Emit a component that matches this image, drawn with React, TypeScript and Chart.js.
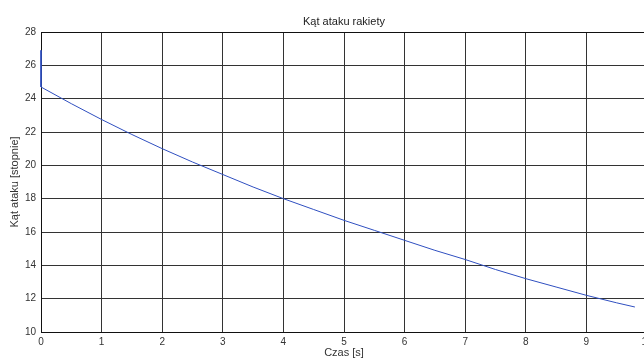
import React, { useEffect, useRef } from "react";
import { Chart, registerables } from "chart.js";

Chart.register(...registerables);

const times = [0, 0, 0.5, 1, 1.5, 2, 2.5, 3, 3.5, 4, 4.5, 5, 5.5, 6, 6.5, 7, 7.5, 8, 8.5, 9, 9.5, 9.8];
const angles = [26.9, 24.7, 23.7, 22.75, 21.85, 21.0, 20.2, 19.45, 18.7, 18.0, 17.35, 16.7, 16.1, 15.5, 14.9, 14.35, 13.75, 13.2, 12.7, 12.2, 11.75, 11.5];
const xTicks = [0, 1, 2, 3, 4, 5, 6, 7, 8, 9, 10];
const yTicks = [10, 12, 14, 16, 18, 20, 22, 24, 26, 28];
const chartTitle = "Kąt ataku rakiety";
const xTitle = "Czas [s]";
const yTitle = "Kąt ataku [stopnie]";

const FONT = "'Liberation Sans', Arial, sans-serif";

export default function App() {
  const ref = useRef<HTMLCanvasElement | null>(null);
  useEffect(() => {
    document.body.style.margin = "0";
    const ctx = ref.current!;
    const titlePlugin = {
      id: "customTitle",
      afterDraw(chart: any) {
        const { ctx, chartArea } = chart;
        ctx.save();
        ctx.font = `11px ${FONT}`;
        ctx.fillStyle = "#222";
        ctx.textAlign = "center";
        ctx.textBaseline = "middle";
        ctx.fillText(chartTitle, (chartArea.left + chartArea.right) / 2, 22);
        ctx.strokeStyle = "#111";
        ctx.lineWidth = 1;
        ctx.beginPath();
        ctx.moveTo(chartArea.left, chartArea.top + 0.5);
        ctx.lineTo(chartArea.right, chartArea.top + 0.5);
        ctx.stroke();
        ctx.restore();
      },
    };
    const chart = new Chart(ctx, {
      type: "line",
      data: {
        datasets: [
          {
            data: times.map((t, i) => ({ x: t, y: angles[i] })),
            borderColor: "#2f4fc0",
            borderWidth: 1,
            pointRadius: 0,
            tension: 0,
            fill: false,
            clip: 3,
          },
        ],
      },
      options: {
        animation: false,
        responsive: false,
        maintainAspectRatio: false,
        layout: { padding: { top: 32, right: 53, left: 2, bottom: 0 } },
        plugins: { legend: { display: false }, tooltip: { enabled: false }, title: { display: false } },
        scales: {
          x: {
            type: "linear",
            min: 0,
            max: 10,
            afterBuildTicks: (s: any) => {
              s.ticks = xTicks.map((v) => ({ value: v }));
            },
            afterFit: (s: any) => {
              s.height = 28;
            },
            grid: { color: "#333", lineWidth: 1, drawTicks: false },
            border: { color: "#111", width: 1 },
            ticks: { color: "#333", font: { family: FONT, size: 10 }, padding: 4, maxRotation: 0 },
            title: { display: true, text: xTitle, color: "#333", font: { family: FONT, size: 11 }, padding: { top: 0, bottom: 0 } },
          },
          y: {
            type: "linear",
            min: 10,
            max: 28,
            afterBuildTicks: (s: any) => {
              s.ticks = yTicks.map((v) => ({ value: v }));
            },
            afterFit: (s: any) => {
              s.width = 39;
            },
            grid: { color: "#333", lineWidth: 1, drawTicks: false },
            border: { color: "#111", width: 1 },
            ticks: { color: "#333", font: { family: FONT, size: 10 }, padding: 5 },
            title: { display: true, text: yTitle, color: "#333", font: { family: FONT, size: 11 }, padding: { top: 6, bottom: 0 } },
          },
        },
      },
      plugins: [titlePlugin],
    });
    return () => chart.destroy();
  }, []);
  return (
    <div style={{ position: "absolute", left: 0, top: 0, width: 644, height: 360, overflow: "hidden", background: "#fff" }}>
      <canvas ref={ref} width={700} height={360} style={{ width: 700, height: 360, display: "block" }} />
    </div>
  );
}
